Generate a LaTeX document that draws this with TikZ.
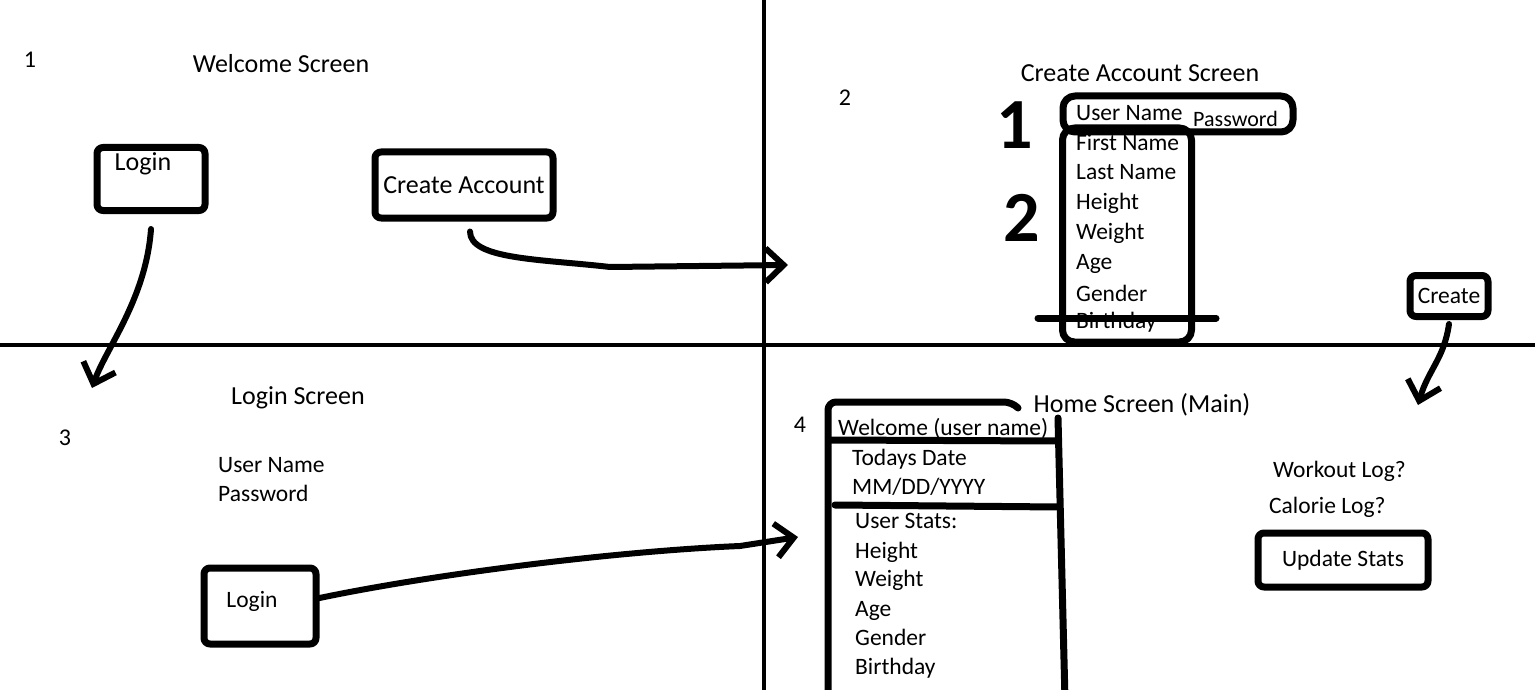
\documentclass[tikz,border=0pt]{standalone}
\usepackage{fontspec}
\setmainfont{Carlito}
\usetikzlibrary{arrows.meta}
\tikzset{
  pen/.style={line width=7pt, line cap=round, line join=round},
  box/.style={draw, pen, rounded corners=6pt, inner sep=0pt},
  conn/.style={line width=6pt, line cap=round, line join=round, -{Straight Barb[length=18pt,width=34pt]}},
  fs/.style={font=\fontsize{23.5}{28}\selectfont},
  ttl/.style={font=\fontsize{26}{30}\selectfont, inner sep=0pt},
  txt/.style={fs, inner sep=0pt, anchor=base west},
  num/.style={font=\fontsize{24}{28}\selectfont, inner sep=0pt},
  big/.style={font=\fontsize{72}{72}\selectfont\bfseries, inner sep=0pt}
}
\begin{document}
\begin{tikzpicture}[x=1pt,y=-1pt]
\useasboundingbox (0,0) rectangle (1535,690);
\clip (0,0) rectangle (1535,690);
% quadrants
\draw[line width=4pt] (764,0) -- (764,690);
\draw[line width=4pt] (0,345) -- (1535,345);

% 1: welcome screen
\node[num] (n1) at (30,60) {1};
\node[ttl] (t1) at (281,64) {Welcome Screen};
\node[box, minimum width=108pt, minimum height=63pt] (login) at (151,179) {};
\node[ttl] (logintxt) at (143,164) {Login};
\node[box, ttl, minimum width=178pt, minimum height=66pt] (create) at (464,185) {Create Account};

% 2: create account screen
\node[num] (n2) at (845,98) {2};
\node[ttl] (t2) at (1140,73) {Create Account Screen};
\node[big] (b1) at (1015,125) {1};
\node[big] (b2) at (1022,218) {2};
\node[box, rounded corners=12pt, minimum width=230pt, minimum height=36pt] (cred) at (1178,114) {};
\node[box, rounded corners=12pt, minimum width=129pt, minimum height=214pt] (info) at (1127,235) {};
\node[txt] (un2) at (1076,121) {User Name};
\node[txt, font=\fontsize{22}{26}\selectfont] (pw2) at (1193,127) {Password};
\foreach \t/\y in {First Name/151, Last Name/180, Height/210, Weight/239, Age/269, Gender/301, Birthday/328}
  \node[txt] at (1076,\y) {\t};
\draw[pen] (1038,318) -- (1216,318);
\node[box, fs, minimum width=78pt, minimum height=41pt] (save) at (1449,296) {Create};

% 3: login screen
\node[num] (n3) at (65,438) {3};
\node[ttl] (t3) at (298,398) {Login Screen};
\node[txt] (un3) at (218,472) {User Name};
\node[txt] (pw3) at (218,501) {Password};
\node[box, minimum width=112pt, minimum height=76pt] (enter) at (260,606) {};
\node[fs, inner sep=0pt] (entertxt) at (252,601) {Login};

% 4: home screen
\node[num] (n4) at (800,425) {4};
\node[ttl] (t4) at (1142,405) {Home Screen (Main)};
\draw[pen, rounded corners=8pt] (1018,408) -- (1012,402) -- (828,402) -- (828,700);
\draw[pen] (1058,418) -- (1065,700);
\draw[pen] (830,440) -- (1058,441);
\draw[pen] (835,505) -- (1058,507);
\node[txt] (hello) at (838,435) {Welcome (user name)};
\node[txt] (today) at (852,465) {Todays Date};
\node[txt] (date) at (852,494) {MM/DD/YYYY};
\foreach \t/\y in {User Stats:/528, Height/558, Weight/586, Age/616, Gender/645, Birthday/674}
  \node[txt] at (855,\y) {\t};
\node[txt] (wlog) at (1273,477) {Workout Log?};
\node[txt] (clog) at (1269,513) {Calorie Log?};
\node[box, fs, minimum width=170pt, minimum height=54pt] (update) at (1343,560) {Update Stats};

% connectors
\coordinate (tipA) at (92,388);
\coordinate (kneeB) at (610,267);
\coordinate (tipB) at (788,265);
\coordinate (kneeC) at (740,546);
\coordinate (tipC) at (798,537);
\coordinate (tipD) at (1418,405);
\draw[conn] ([yshift=-15pt]login.south) .. controls +(-5,70) and +(14,-40) .. (tipA);
\draw[conn] ([xshift=6pt,yshift=-10pt]create.south) .. controls +(0,28) and +(-70,-8) .. (kneeB) -- (tipB);
\draw[conn] ([yshift=8pt]enter.east) .. controls +(120,-25) and +(-120,5) .. (kneeC) -- (tipC);
\draw[conn] ([yshift=-4pt]save.south) .. controls +(-5,35) and +(10,-35) .. (tipD);
\end{tikzpicture}
\end{document}
